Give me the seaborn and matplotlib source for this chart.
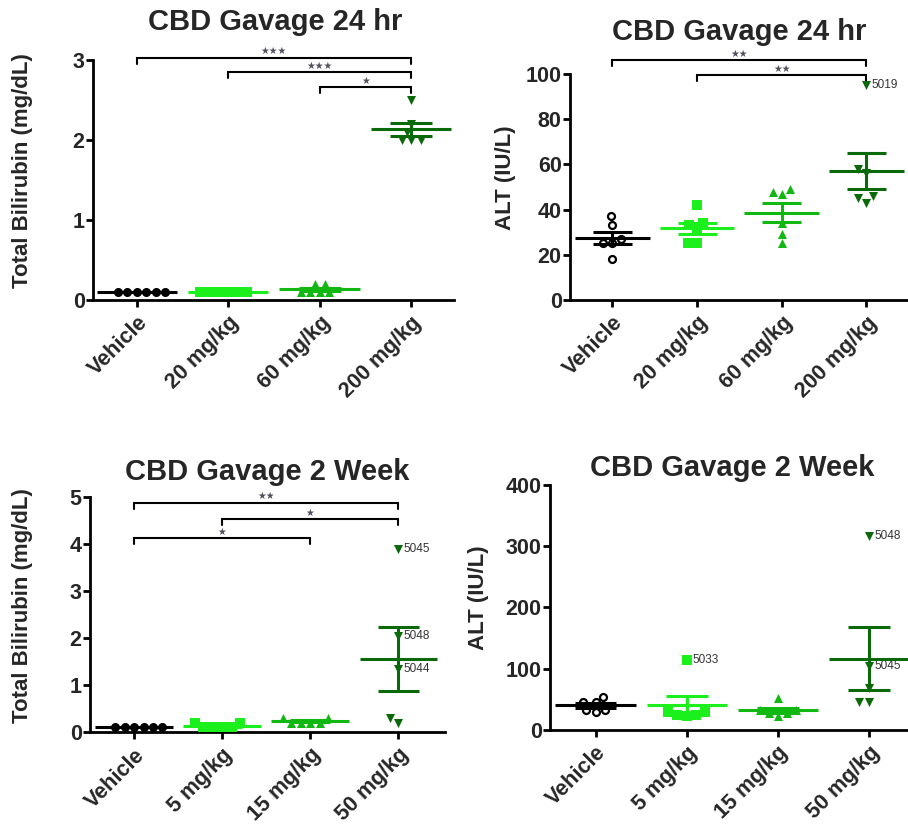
import pandas as pd
import seaborn as sns
import matplotlib
matplotlib.use('Agg')
import matplotlib.pyplot as plt

groups_24 = ['Vehicle', '20 mg/kg', '60 mg/kg', '200 mg/kg']
groups_2wk = ['Vehicle', '5 mg/kg', '15 mg/kg', '50 mg/kg']

# Total bilirubin (mg/dL), 24 hr
bili_24_veh = [0.1, 0.1, 0.1, 0.1, 0.1, 0.1]
bili_24_20 = [0.1, 0.1, 0.1, 0.1, 0.1, 0.1]
bili_24_60 = [0.2, 0.1, 0.1, 0.1, 0.1, 0.2]
bili_24_200 = [2.5, 2.2, 2.1, 2.0, 2.0, 2.0]

# ALT (IU/L), 24 hr
alt_24_veh = [37, 33, 27, 25, 25, 18]
alt_24_20 = [42, 34, 33, 31, 25, 25]
alt_24_60 = [49, 48, 47, 34, 29, 25]
alt_24_200 = [95, 58, 56, 46, 45, 43]
alt_24_200_ids = ['5019', '', '', '', '', '']

# Total bilirubin (mg/dL), 2 week
bili_2wk_veh = [0.1, 0.1, 0.1, 0.1, 0.1, 0.1]
bili_2wk_5 = [0.2, 0.1, 0.1, 0.1, 0.1, 0.2]
bili_2wk_15 = [0.3, 0.2, 0.2, 0.2, 0.2, 0.3]
bili_2wk_50 = [3.9, 2.05, 1.35, 0.3, 0.2]
bili_2wk_50_ids = ['5045', '5048', '5044', '', '']

# ALT (IU/L), 2 week
alt_2wk_veh = [54, 46, 45, 33, 32, 30]
alt_2wk_5 = [114, 30, 29, 25, 25, 22]
alt_2wk_5_ids = ['5033', '', '', '', '', '']
alt_2wk_15 = [52, 32, 32, 27, 27, 23]
alt_2wk_50 = [316, 105, 68, 46, 46]
alt_2wk_50_ids = ['5048', '5045', '', '', '']

# significance brackets
sig_bili_24 = [('Vehicle', '200 mg/kg', '★★★'), ('20 mg/kg', '200 mg/kg', '★★★'),
               ('60 mg/kg', '200 mg/kg', '★')]
sig_alt_24 = [('Vehicle', '200 mg/kg', '★★'), ('20 mg/kg', '200 mg/kg', '★★')]
sig_bili_2wk = [('Vehicle', '50 mg/kg', '★★'), ('5 mg/kg', '50 mg/kg', '★'),
                ('Vehicle', '15 mg/kg', '★')]

colors = ['#000000', '#1cf01c', '#12b812', '#0a6a0a']
markers = ['o', 's', '^', 'v']


def make_frame(groups, series, ids):
    rows = []
    for g, vals, lab in zip(groups, series, ids):
        lab = lab if lab else [''] * len(vals)
        for v, l in zip(vals, lab):
            rows.append({'group': g, 'value': v, 'id': l})
    return pd.DataFrame(rows)


def add_brackets(ax, groups, sig, levels):
    ymax = ax.get_ylim()[1]
    hook = 0.025 * ymax
    for (a, b, stars), lev in zip(sig, levels):
        x1, x2 = groups.index(a), groups.index(b)
        y = lev * ymax
        ax.plot([x1, x1, x2, x2], [y - hook, y, y, y - hook], color='black',
                lw=1.5, clip_on=False, solid_joinstyle='miter')
        ax.text((x1 + x2) / 2, y + 0.006 * ymax, stars, ha='center', va='bottom',
                fontsize=7, color='#50505e', family=['DejaVu Sans'])


def draw_panel(ax, df, groups, ymax, yticks, ylabel, xlim, label_x, open_vehicle):
    for i, g in enumerate(groups):
        sub = df[df['group'] == g]
        kw = dict(marker=markers[i], size=6.5, zorder=3)
        if i == 0 and open_vehicle:
            kw.update(color='white', edgecolor='black', linewidth=1.6, size=5)
        else:
            kw.update(color=colors[i], linewidth=0)
        sns.swarmplot(data=sub, x='group', y='value', order=groups, ax=ax, **kw)

    # mean +/- SEM
    stats = df.groupby('group', sort=False)['value'].agg(['mean', 'sem']).reindex(groups)
    for i, g in enumerate(groups):
        m, s = stats.loc[g, 'mean'], stats.loc[g, 'sem']
        ax.hlines(m, i - 0.44, i + 0.44, color=colors[i], lw=2.2, zorder=4)
        if s > 0:
            ax.vlines(i, m - s, m + s, color=colors[i], lw=2.2, zorder=4)
            ax.hlines([m - s, m + s], i - 0.23, i + 0.23, color=colors[i], lw=2.2, zorder=4)

    # point ids
    for _, row in df[df['id'] != ''].iterrows():
        ax.annotate(row['id'], (groups.index(row['group']), row['value']),
                    xytext=(4, 0), textcoords='offset points', va='center',
                    fontsize=8.5, color='#333333')

    ax.set_xlim(xlim)
    ax.set_ylim(0, ymax)
    ax.set_yticks(yticks)
    ax.set_xlabel('')
    ax.set_ylabel(ylabel, fontsize=16, fontweight='bold')
    ax.yaxis.set_label_coords(label_x, 0.54)
    ax.tick_params(axis='both', width=2, length=5, labelsize=15.5, color='black')
    ax.tick_params(axis='y', pad=1)
    ax.tick_params(axis='x', pad=4)
    for lab in ax.get_yticklabels():
        lab.set_fontweight('bold')
    plt.setp(ax.get_xticklabels(), rotation=45, ha='right', va='top',
             rotation_mode='anchor', fontweight='bold')
    sns.despine(ax=ax)
    for sp in ['left', 'bottom']:
        ax.spines[sp].set_linewidth(2)
        ax.spines[sp].set_color('black')


sns.set_style('ticks')
plt.rcParams['font.family'] = ['Liberation Sans', 'DejaVu Sans']

fig = plt.figure(figsize=(9.08, 8.25), dpi=100)

ax1 = fig.add_axes([0.1024, 0.6364, 0.3976, 0.2909])
df1 = make_frame(groups_24, [bili_24_veh, bili_24_20, bili_24_60, bili_24_200], [None] * 4)
draw_panel(ax1, df1, groups_24, 3, [0, 1, 2, 3], 'Total Bilirubin (mg/dL)',
           (-0.48, 3.47), -0.166, False)
add_brackets(ax1, groups_24, sig_bili_24, [1.01, 0.95, 0.887])

ax2 = fig.add_axes([0.6278, 0.6364, 0.3721, 0.2739])
df2 = make_frame(groups_24, [alt_24_veh, alt_24_20, alt_24_60, alt_24_200],
                 [None, None, None, alt_24_200_ids])
draw_panel(ax2, df2, groups_24, 100, [0, 20, 40, 60, 80, 100], 'ALT (IU/L)',
           (-0.5, 3.49), -0.16, True)
add_brackets(ax2, groups_24, sig_alt_24, [1.062, 0.996])

ax3 = fig.add_axes([0.0991, 0.1127, 0.3910, 0.2848])
df3 = make_frame(groups_2wk, [bili_2wk_veh, bili_2wk_5, bili_2wk_15, bili_2wk_50],
                 [None, None, None, bili_2wk_50_ids])
draw_panel(ax3, df3, groups_2wk, 5, [0, 1, 2, 3, 4, 5], 'Total Bilirubin (mg/dL)',
           (-0.5, 3.53), -0.16, False)
add_brackets(ax3, groups_2wk, sig_bili_2wk, [0.976, 0.906, 0.824])

ax4 = fig.add_axes([0.6057, 0.1152, 0.3942, 0.2970])
df4 = make_frame(groups_2wk, [alt_2wk_veh, alt_2wk_5, alt_2wk_15, alt_2wk_50],
                 [None, alt_2wk_5_ids, None, alt_2wk_50_ids])
draw_panel(ax4, df4, groups_2wk, 400, [0, 100, 200, 300, 400], 'ALT (IU/L)',
           (-0.5, 3.43), -0.17, True)

title_kw = dict(ha='center', va='center', fontsize=21, fontweight='bold')
fig.text(275 / 908, 1 - 22 / 825, 'CBD Gavage 24 hr', **title_kw)
fig.text(739 / 908, 1 - 32 / 825, 'CBD Gavage 24 hr', **title_kw)
fig.text(267 / 908, 1 - 472 / 825, 'CBD Gavage 2 Week', **title_kw)
fig.text(732 / 908, 1 - 468 / 825, 'CBD Gavage 2 Week', **title_kw)

fig.savefig('out.png', dpi=100)
